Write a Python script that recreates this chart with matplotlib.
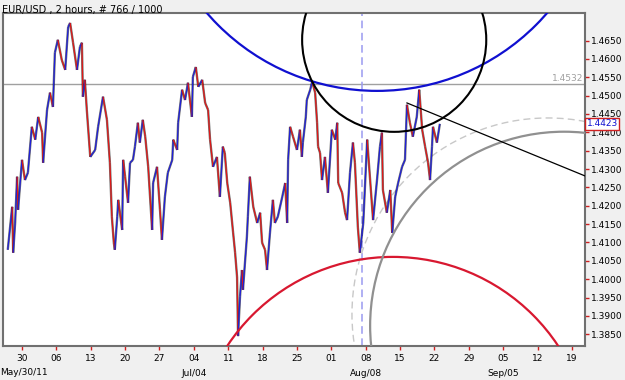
import matplotlib
matplotlib.use("Agg")
import matplotlib.pyplot as plt
import numpy as np
from matplotlib.collections import LineCollection
from matplotlib.patches import Ellipse

# price path, x = days since May 30 2011
days = [-2.9, -2.0, -1.8, -1.4, -1.0, -0.8, 0.0, 0.6, 1.2, 2.0, 2.7, 3.3, 4.1, 4.3, 5.1, 5.7, 6.3,
        6.7, 7.3, 8.1, 8.8, 9.4, 9.8, 10.4, 11.2, 11.8, 12.2, 12.4, 12.8, 13.2, 13.9, 14.9, 15.5,
        16.5, 17.3, 17.9, 18.3, 18.7, 18.9, 19.4, 19.6, 20.4, 20.6, 21.0, 21.6, 22.0, 22.6, 23.0,
        23.6, 24.0, 24.6, 25.1, 25.7, 26.5, 26.7, 27.5, 28.1, 28.5, 29.1, 29.7, 30.6, 30.8, 31.6,
        31.8, 32.6, 33.2, 33.8, 34.6, 34.8, 35.4, 35.9, 36.7, 37.3, 37.9, 38.3, 38.9, 39.7, 40.3,
        40.9, 41.3, 41.8, 42.4, 43.0, 43.4, 43.8, 44.0, 44.4, 44.8, 45.0, 45.8, 46.0, 46.4, 47.1,
        47.9, 48.5, 48.9, 49.5, 49.9, 50.5, 51.1, 51.5, 52.1, 53.0, 53.6, 54.0, 54.2, 54.6, 55.2,
        56.0, 56.6, 57.0, 57.2, 57.8, 58.0, 58.7, 59.1, 59.7, 60.1, 60.3, 60.7, 61.1, 61.7, 62.3,
        63.1, 63.8, 64.2, 64.4, 65.2, 65.8, 66.2, 66.8, 67.4, 67.8, 68.4, 68.8, 69.5, 70.3, 70.9,
        71.5, 72.3, 72.9, 73.3, 73.5, 74.3, 75.0, 75.4, 76.0, 76.6, 77.4, 78.0, 78.4, 79.0, 79.6,
        80.4, 80.9, 81.5, 82.1, 82.7, 83.1, 83.5, 83.7, 84.5, 85.1]
prices = [1.4080, 1.4197, 1.4072, 1.4153, 1.4279, 1.4189, 1.4325, 1.4270, 1.4290, 1.4415, 1.4380,
          1.4442, 1.4399, 1.4317, 1.4461, 1.4508, 1.4469, 1.4617, 1.4652, 1.4597, 1.4570, 1.4687,
          1.4698, 1.4644, 1.4570, 1.4633, 1.4644, 1.4497, 1.4543, 1.4461, 1.4333, 1.4352, 1.4415,
          1.4497, 1.4434, 1.4317, 1.4170, 1.4099, 1.4080, 1.4170, 1.4216, 1.4134, 1.4325, 1.4279,
          1.4208, 1.4317, 1.4325, 1.4361, 1.4426, 1.4372, 1.4434, 1.4388, 1.4306, 1.4134, 1.4262,
          1.4306, 1.4189, 1.4107, 1.4224, 1.4290, 1.4325, 1.4380, 1.4352, 1.4426, 1.4516, 1.4488,
          1.4535, 1.4442, 1.4551, 1.4578, 1.4524, 1.4543, 1.4480, 1.4461, 1.4380, 1.4306, 1.4333,
          1.4224, 1.4361, 1.4344, 1.4262, 1.4208, 1.4126, 1.4072, 1.4006, 1.3845, 1.3952, 1.4025,
          1.3971, 1.4115, 1.4170, 1.4279, 1.4197, 1.4153, 1.4181, 1.4099, 1.4080, 1.4025, 1.4126,
          1.4216, 1.4153, 1.4170, 1.4224, 1.4262, 1.4153, 1.4325, 1.4415, 1.4388, 1.4352, 1.4407,
          1.4333, 1.4372, 1.4442, 1.4488, 1.4516, 1.4538, 1.4508, 1.4426, 1.4361, 1.4344, 1.4270,
          1.4333, 1.4235, 1.4407, 1.4380, 1.4426, 1.4262, 1.4235, 1.4181, 1.4161, 1.4290, 1.4372,
          1.4317, 1.4142, 1.4072, 1.4153, 1.4380, 1.4270, 1.4161, 1.4270, 1.4361, 1.4399, 1.4243,
          1.4181, 1.4243, 1.4126, 1.4224, 1.4262, 1.4306, 1.4325, 1.4475, 1.4426, 1.4388, 1.4442,
          1.4516, 1.4407, 1.4361, 1.4317, 1.4270, 1.4361, 1.4415, 1.4372, 1.4423]

tick_days = list(range(0, 113, 7))
tick_labels = ["30", "06", "13", "20", "27", "04", "11", "18", "25",
               "01", "08", "15", "22", "29", "05", "12", "19"]
month_days = [35, 70, 98]
month_labels = ["Jul/04", "Aug/08", "Sep/05"]
y_ticks = [1.3850, 1.3900, 1.3950, 1.4000, 1.4050, 1.4100, 1.4150, 1.4200, 1.4250,
           1.4300, 1.4350, 1.4400, 1.4450, 1.4500, 1.4550, 1.4600, 1.4650]
level = 1.4532
last_price = 1.4423

fig = plt.figure(figsize=(6.25, 3.8), dpi=100, facecolor="#f0f0f0")
ax = fig.add_axes([0.0048, 0.0895, 0.9312, 0.8763])
ax.set_xlim(-3.87, 114.66)
ax.set_ylim(1.3818, 1.4725)

# price segments, blue up / red down
pts = np.column_stack([days, prices])
segs = np.stack([pts[:-1], pts[1:]], axis=1)
cols = ["#2020d8" if b > a else "#e01818" for a, b in zip(prices[:-1], prices[1:])]
ax.add_collection(LineCollection(segs, colors="black", linewidths=1.7, alpha=0.55, zorder=2))
ax.add_collection(LineCollection(segs, colors=cols, linewidths=0.9, zorder=3))

# horizontal level
ax.axhline(level, color="#a0a0a0", lw=1, zorder=1)
ax.text(114.4, level + 0.0003, "1.4532", color="#a0a0a0", fontsize=6.5, ha="right", va="bottom")

# vertical dashed marker
ax.axvline(69.2, color="#9a9af0", lw=1.1, ls=(0, (5, 3)), zorder=1)

# circles
ax.add_patch(Ellipse((72.3, 1.5126), 91.6, 0.12263, fill=False, ec="#1010d0", lw=1.6, zorder=4))
ax.add_patch(Ellipse((75.8, 1.4652), 37.5, 0.05014, fill=False, ec="black", lw=1.5, zorder=4))
ax.add_patch(Ellipse((75.5, 1.3520), 80.8, 0.10813, fill=False, ec="#d81830", lw=1.6, zorder=4))
ax.add_patch(Ellipse((110.4, 1.3873), 79.0, 0.10573, fill=False, ec="#909090", lw=1.6, zorder=4))
ax.add_patch(Ellipse((107.1, 1.3905), 79.8, 0.10682, fill=False, ec="#c8c8c8", lw=1.0,
                     ls=(0, (5, 3)), zorder=1))

# trend line
ax.plot([78.4, 114.7], [1.4480, 1.4281], color="black", lw=0.9, zorder=4)

for s in ax.spines.values():
    s.set_color("#707070")
    s.set_linewidth(1.5)

ax.yaxis.tick_right()
ax.set_yticks(y_ticks)
ax.set_yticklabels([f"{v:.4f}" for v in y_ticks])
ax.set_xticks(tick_days)
ax.set_xticklabels(tick_labels)
ax.tick_params(axis="both", colors="#d02020", labelcolor="black", labelsize=6.5,
               length=3, width=1, pad=1)
ax.tick_params(axis="x", pad=3)

for d, lab in zip(month_days, month_labels):
    ax.text(d, 1.3818 - 0.0064, lab, fontsize=6.5, ha="center", va="top")
fig.text(0.0, 0.031, "May/30/11", fontsize=6.5, ha="left", va="top")

ax.text(115.0, last_price, "1.4423", color="#1010d0", fontsize=6.5, va="center", ha="left",
        bbox=dict(boxstyle="square,pad=0.15", fc="white", ec="#d02020", lw=1))

fig.text(0.003, 0.988, "EUR/USD , 2 hours, # 766 / 1000", fontsize=7, va="top", ha="left")

fig.savefig("out.png", dpi=100, facecolor=fig.get_facecolor())
